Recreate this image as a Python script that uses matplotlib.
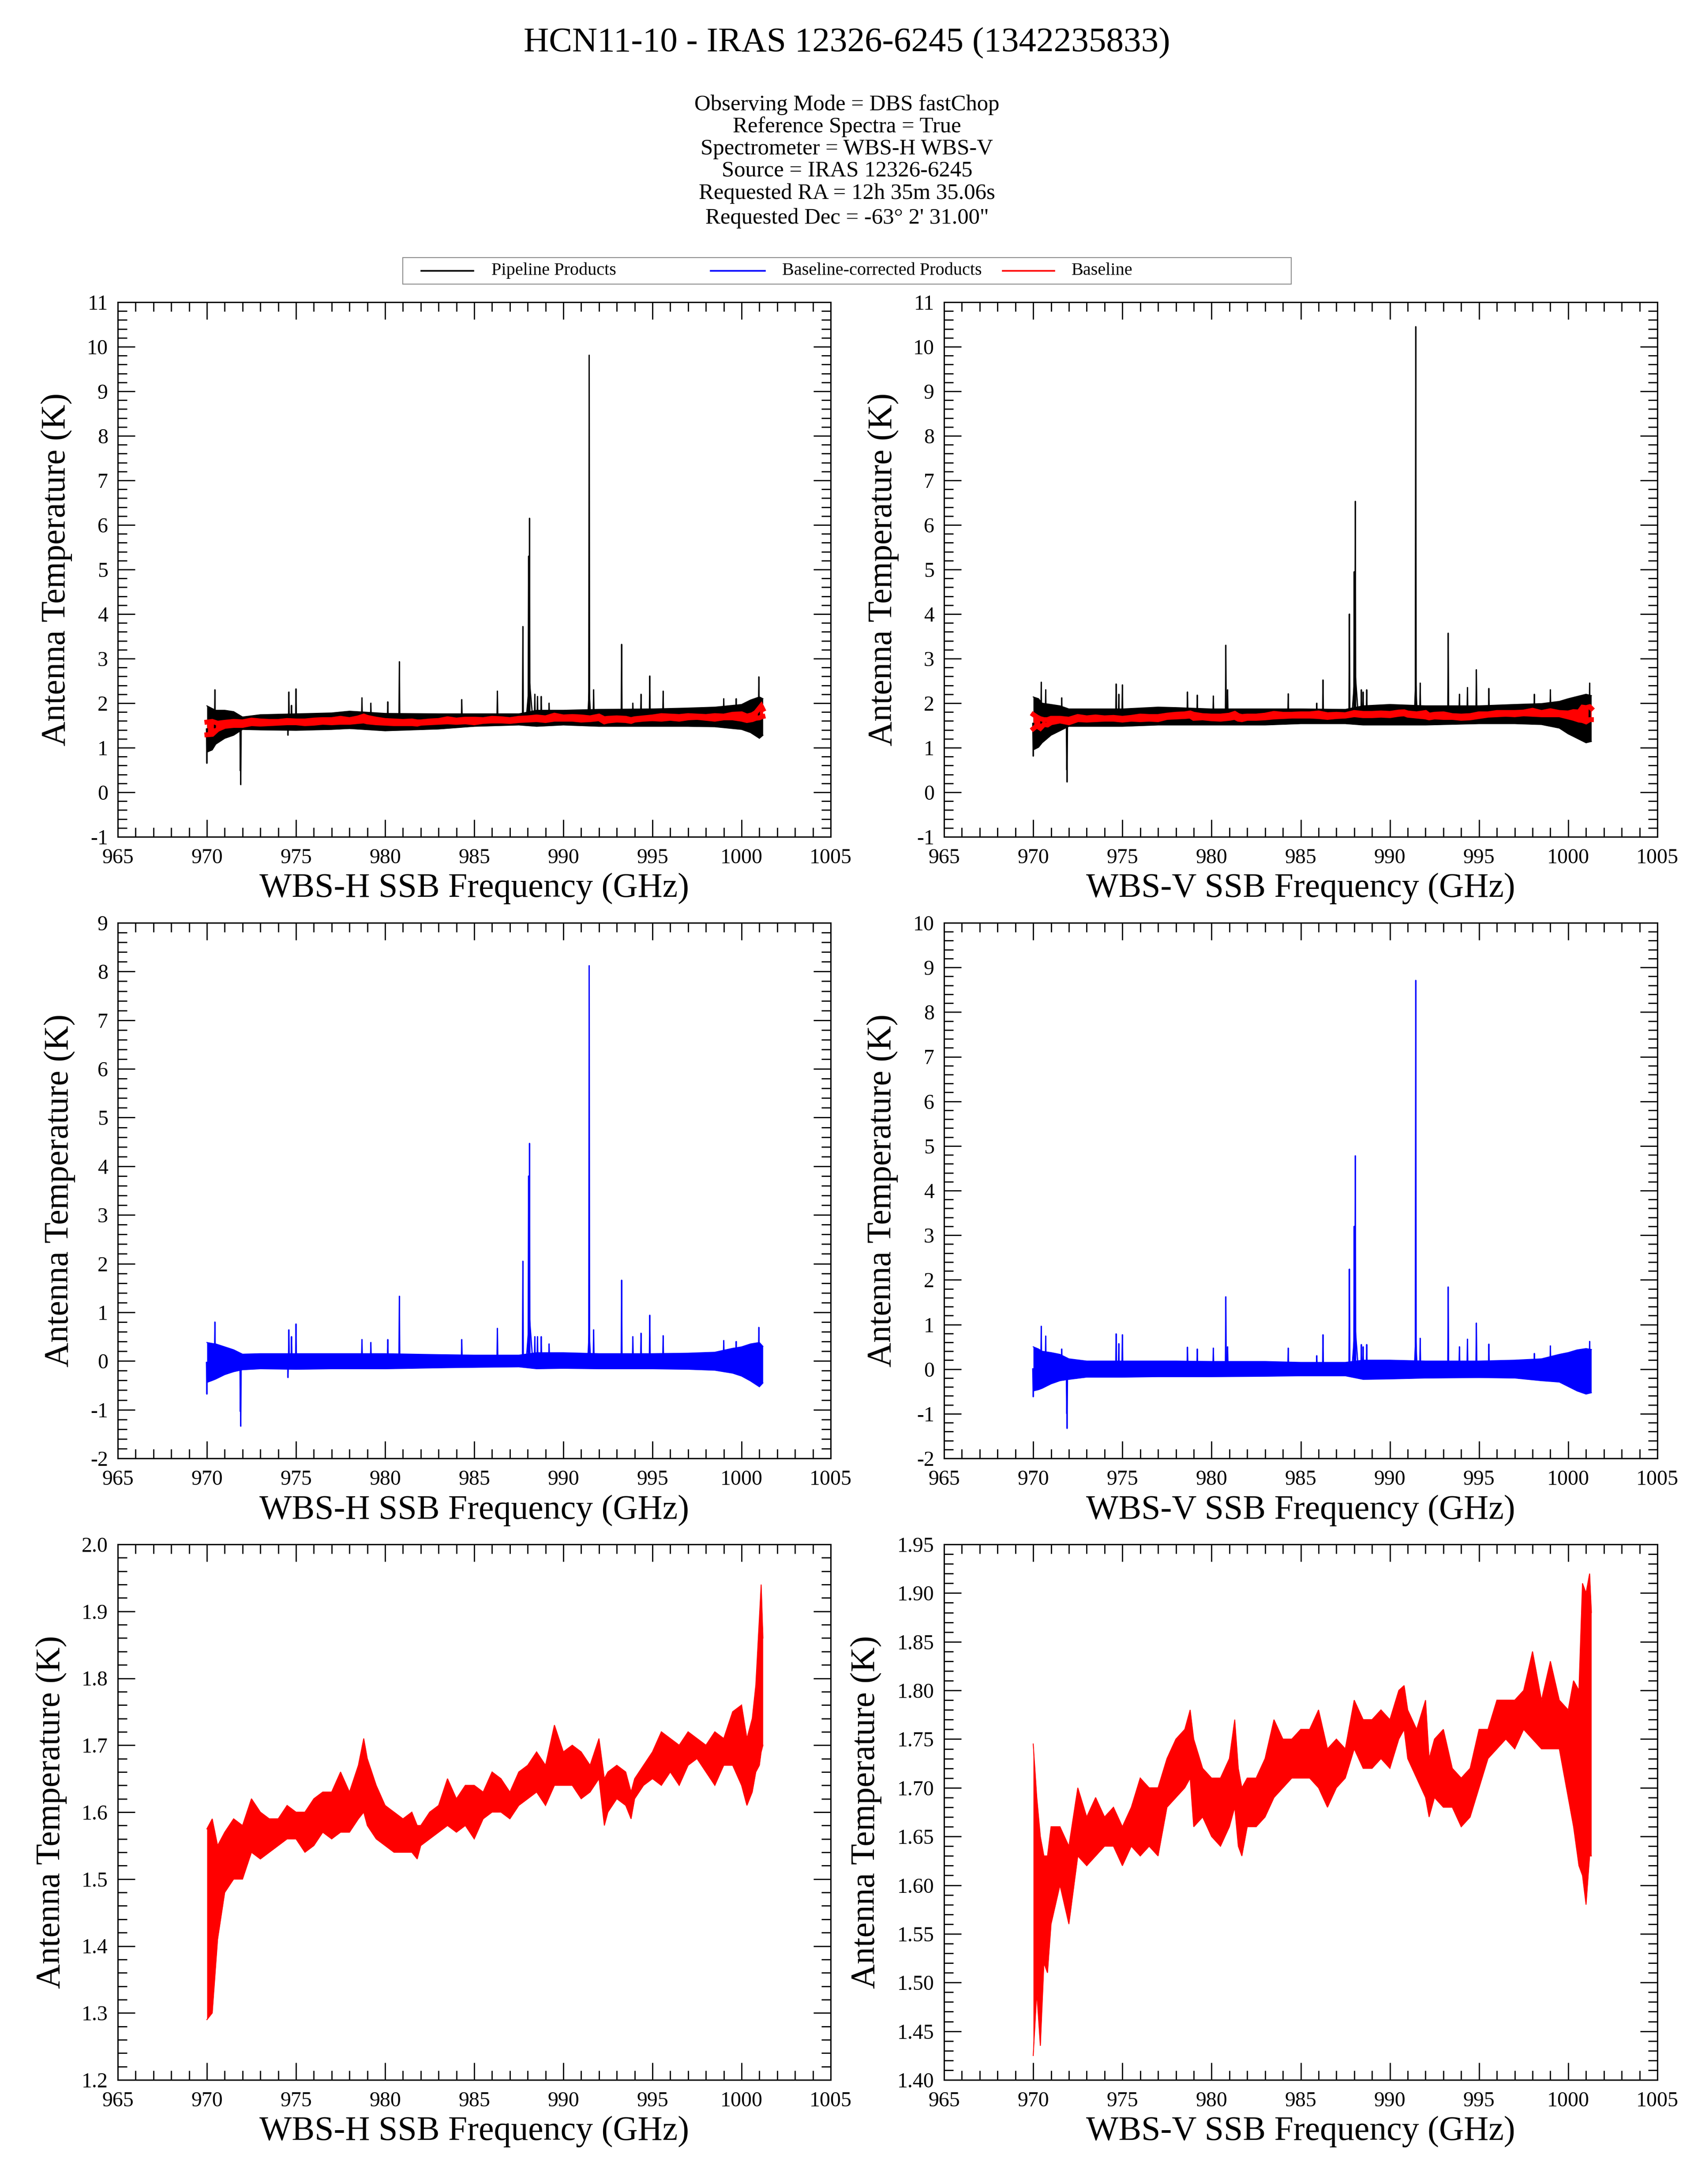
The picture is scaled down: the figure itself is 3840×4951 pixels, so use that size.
import numpy as np
import matplotlib
matplotlib.use('Agg')
import matplotlib.pyplot as plt
from matplotlib.ticker import MultipleLocator, FormatStrFormatter
from matplotlib.lines import Line2D
from matplotlib.patches import Rectangle

plt.rcParams['font.family'] = ['Liberation Serif', 'DejaVu Serif']
plt.rcParams['axes.unicode_minus'] = False

# ---------------- data ----------------
TITLE = "HCN11-10 - IRAS 12326-6245 (1342235833)"
INFO_LINES = ["Observing Mode = DBS fastChop",
              "Reference Spectra = True",
              "Spectrometer = WBS-H WBS-V",
              "Source = IRAS 12326-6245",
              "Requested RA = 12h 35m 35.06s",
              "Requested Dec = -63\u00b0 2' 31.00\""]
LEGEND_LABELS = ["Pipeline Products", "Baseline-corrected Products", "Baseline"]

# noise-band envelope nodes (GHz)
F_BAND_H = [970.0, 970.3, 970.5, 971.0, 971.5, 972.0, 973.0, 975.0, 977.0, 978.0, 980.0, 983.0, 985.0,
            987.5, 988.5, 990.0, 992.0, 995.0, 997.0, 998.5, 999.5, 1000.0, 1000.5, 1001.0, 1001.2]
F_BAND_V = [970.0, 970.3, 970.5, 971.0, 971.5, 972.0, 973.0, 975.0, 977.0, 978.0, 980.0, 983.0, 985.0,
            987.5, 988.5, 990.0, 992.0, 995.0, 997.0, 998.5, 999.5, 1000.0, 1000.5, 1001.0, 1001.3]

# pipeline products (K)
PIPE_H_HI = [1.94, 1.88, 1.84, 1.84, 1.81, 1.69, 1.74, 1.76, 1.78, 1.82, 1.77, 1.76, 1.76,
             1.76, 1.84, 1.84, 1.86, 1.87, 1.89, 1.91, 1.95, 1.97, 2.07, 2.14, 2.10]
PIPE_H_LO = [0.90, 0.95, 1.08, 1.21, 1.28, 1.41, 1.40, 1.39, 1.41, 1.43, 1.38, 1.42, 1.48,
             1.51, 1.48, 1.51, 1.48, 1.48, 1.48, 1.47, 1.43, 1.41, 1.34, 1.21, 1.28]
PIPE_V_HI = [2.14, 2.10, 2.00, 1.97, 1.94, 1.87, 1.87, 1.87, 1.91, 1.90, 1.87, 1.87, 1.87,
             1.86, 1.94, 1.97, 1.94, 1.94, 1.97, 1.99, 2.04, 2.10, 2.15, 2.20, 2.17]
PIPE_V_LO = [0.95, 1.01, 1.11, 1.28, 1.38, 1.48, 1.48, 1.48, 1.51, 1.51, 1.51, 1.51, 1.54,
             1.54, 1.51, 1.51, 1.51, 1.54, 1.54, 1.52, 1.44, 1.31, 1.21, 1.11, 1.14]

# baseline-corrected products (K)
CORR_H_HI = [0.38, 0.36, 0.35, 0.29, 0.23, 0.14, 0.15, 0.15, 0.15, 0.15, 0.15, 0.13, 0.12,
             0.12, 0.17, 0.17, 0.15, 0.15, 0.16, 0.18, 0.26, 0.29, 0.35, 0.38, 0.30]
CORR_H_LO = [-0.44, -0.40, -0.37, -0.28, -0.22, -0.18, -0.16, -0.17, -0.16, -0.16, -0.16, -0.14, -0.13,
             -0.12, -0.16, -0.15, -0.16, -0.16, -0.17, -0.19, -0.25, -0.31, -0.41, -0.53, -0.45]
CORR_V_HI = [0.50, 0.45, 0.40, 0.37, 0.33, 0.23, 0.18, 0.18, 0.18, 0.18, 0.17, 0.17, 0.15,
             0.15, 0.20, 0.20, 0.18, 0.18, 0.20, 0.23, 0.33, 0.37, 0.43, 0.46, 0.44]
CORR_V_LO = [-0.49, -0.46, -0.43, -0.33, -0.26, -0.23, -0.18, -0.18, -0.17, -0.17, -0.17, -0.16, -0.15,
             -0.15, -0.23, -0.22, -0.20, -0.19, -0.20, -0.26, -0.29, -0.39, -0.49, -0.56, -0.53]

# spectral lines (GHz, peak K)
PK_H_F = [970.45, 974.6, 974.75, 975.0, 978.7, 979.2, 980.15, 980.8, 984.3, 986.3, 987.73, 988.05, 988.1,
          988.4, 988.55, 988.76, 989.2, 991.45, 991.7, 993.27, 993.9, 994.36, 994.85, 995.6, 999.0,
          999.7, 1000.97]
PK_H_PIPE = [2.30, 2.25, 1.95, 2.32, 2.12, 2.00, 2.03, 2.93, 2.08, 2.27, 3.72, 5.30, 6.15,
             2.20, 2.15, 2.15, 2.00, 9.81, 2.30, 3.32, 2.00, 2.20, 2.61, 2.27, 2.10, 2.10, 2.59]
PK_H_CORR = [0.80, 0.64, 0.50, 0.76, 0.44, 0.38, 0.44, 1.33, 0.44, 0.67, 2.05, 3.80, 4.47,
             0.50, 0.50, 0.50, 0.35, 8.12, 0.64, 1.66, 0.50, 0.57, 0.94, 0.52, 0.42, 0.40, 0.69]
PK_V_F = [970.45, 970.7, 971.6, 974.65, 974.8, 975.0, 978.65, 979.2, 980.1, 980.8, 980.9, 984.3, 985.9,
          986.25, 987.73, 988.0, 988.06, 988.4, 988.5, 988.7, 991.45, 991.7, 993.27, 993.9, 994.35,
          994.85, 995.55, 998.1, 999.0, 1001.2]
PK_V_PIPE = [2.47, 2.30, 2.12, 2.43, 2.20, 2.41, 2.25, 2.18, 2.16, 3.30, 2.30, 2.21, 2.00,
             2.52, 4.00, 4.95, 6.53, 2.30, 2.25, 2.30, 10.45, 2.45, 3.57, 2.20, 2.35,
             2.75, 2.33, 2.20, 2.30, 2.45]
PK_V_CORR = [0.96, 0.74, 0.45, 0.79, 0.57, 0.77, 0.49, 0.45, 0.47, 1.62, 0.50, 0.47, 0.30,
             0.77, 2.24, 3.20, 4.78, 0.55, 0.50, 0.55, 8.71, 0.69, 1.84, 0.50, 0.67,
             1.03, 0.56, 0.35, 0.52, 0.62]

# broad line pedestals (GHz, peak K, half width GHz)
PED_H_F = [988.1, 991.45]
PED_H_PIPE = [2.5, 2.3]
PED_H_CORR = [0.9, 0.6]
PED_V_F = [988.05, 991.45]
PED_V_PIPE = [2.7, 2.5]
PED_V_CORR = [0.95, 0.7]
PED_HW = [0.18, 0.08]

# absorption-like dips (GHz, minimum K)
DP_H_F = [970.0, 971.88, 971.9, 974.55]
DP_H_PIPE = [0.65, 0.48, 0.17, 1.28]
DP_H_CORR = [-0.68, -1.04, -1.34, -0.34]
DP_V_F = [970.0, 971.88, 971.9]
DP_V_PIPE = [0.81, 0.50, 0.23]
DP_V_CORR = [-0.62, -1.00, -1.33]

# baselines (K)
BL_H_F = [970.0, 970.3, 970.6, 971.0, 971.5, 972.0, 972.5, 973.0, 973.5, 974.0, 974.5, 975.0, 975.5,
          976.0, 976.5, 977.0, 977.5, 978.0, 978.5, 978.8, 979.0, 979.5, 980.0, 980.5, 981.0, 981.5,
          981.8, 982.0, 982.5, 983.0, 983.5, 984.0, 984.5, 985.0, 985.5, 986.0, 986.5, 987.0, 987.5,
          988.0, 988.5, 989.0, 989.5, 990.0, 990.5, 991.0, 991.5, 992.0, 992.3, 992.5, 993.0, 993.5,
          993.8, 994.0, 994.5, 995.0, 995.5, 996.0, 996.5, 997.0, 997.5, 998.0, 998.5, 999.0, 999.5,
          1000.0, 1000.3, 1000.6, 1000.8, 1001.0, 1001.1, 1001.2]
BL_H_LO = [1.29, 1.30, 1.41, 1.48, 1.50, 1.50, 1.54, 1.53, 1.54, 1.55, 1.56, 1.56, 1.54,
           1.55, 1.57, 1.56, 1.57, 1.57, 1.59, 1.60, 1.58, 1.56, 1.55, 1.54, 1.54, 1.54,
           1.53, 1.55, 1.56, 1.57, 1.58, 1.57, 1.58, 1.56, 1.59, 1.60, 1.60, 1.59, 1.61,
           1.62, 1.63, 1.61, 1.64, 1.64, 1.64, 1.62, 1.63, 1.65, 1.58, 1.60, 1.62, 1.61,
           1.59, 1.62, 1.64, 1.65, 1.64, 1.66, 1.64, 1.67, 1.68, 1.66, 1.64, 1.67, 1.67,
           1.64, 1.61, 1.63, 1.66, 1.67, 1.69, 1.70]
BL_H_HI = [1.575, 1.59, 1.55, 1.57, 1.59, 1.58, 1.62, 1.60, 1.59, 1.59, 1.61, 1.60, 1.60,
           1.62, 1.63, 1.63, 1.66, 1.63, 1.67, 1.71, 1.68, 1.64, 1.61, 1.60, 1.59, 1.60,
           1.58, 1.58, 1.60, 1.61, 1.65, 1.62, 1.64, 1.64, 1.63, 1.66, 1.65, 1.63, 1.66,
           1.67, 1.69, 1.67, 1.73, 1.69, 1.70, 1.69, 1.67, 1.71, 1.65, 1.66, 1.67, 1.66,
           1.63, 1.65, 1.67, 1.69, 1.72, 1.71, 1.70, 1.72, 1.71, 1.70, 1.72, 1.71, 1.75,
           1.76, 1.71, 1.74, 1.79, 1.89, 1.94, 1.86]
BL_V_F = [970.0, 970.2, 970.4, 970.6, 970.8, 971.0, 971.5, 972.0, 972.5, 973.0, 973.5, 974.0, 974.5,
          975.0, 975.5, 976.0, 976.5, 977.0, 977.5, 978.0, 978.5, 978.8, 979.0, 979.5, 980.0, 980.5,
          981.0, 981.3, 981.5, 981.7, 982.0, 982.5, 983.0, 983.5, 984.0, 984.5, 985.0, 985.5, 986.0,
          986.5, 987.0, 987.5, 988.0, 988.5, 989.0, 989.5, 990.0, 990.5, 990.8, 991.0, 991.5, 992.0,
          992.2, 992.5, 993.0, 993.5, 994.0, 994.5, 995.0, 995.5, 996.0, 996.5, 997.0, 997.5, 998.0,
          998.5, 999.0, 999.5, 1000.0, 1000.3, 1000.6, 1000.8, 1001.0, 1001.2, 1001.3]
BL_V_LO = [1.425, 1.49, 1.435, 1.52, 1.51, 1.56, 1.60, 1.56, 1.63, 1.62, 1.63, 1.64, 1.64,
           1.62, 1.64, 1.63, 1.64, 1.63, 1.68, 1.69, 1.70, 1.71, 1.66, 1.67, 1.65, 1.64,
           1.66, 1.68, 1.64, 1.63, 1.66, 1.66, 1.67, 1.69, 1.70, 1.71, 1.71, 1.71, 1.70,
           1.68, 1.70, 1.71, 1.74, 1.72, 1.72, 1.73, 1.72, 1.75, 1.76, 1.73, 1.71, 1.69,
           1.67, 1.69, 1.68, 1.68, 1.66, 1.67, 1.70, 1.73, 1.74, 1.75, 1.74, 1.76, 1.75,
           1.74, 1.74, 1.74, 1.69, 1.66, 1.62, 1.61, 1.58, 1.63, 1.63]
BL_V_HI = [1.745, 1.69, 1.65, 1.63, 1.63, 1.66, 1.66, 1.64, 1.70, 1.67, 1.69, 1.67, 1.68,
           1.66, 1.68, 1.71, 1.70, 1.70, 1.73, 1.75, 1.76, 1.78, 1.75, 1.72, 1.71, 1.71,
           1.73, 1.77, 1.72, 1.70, 1.71, 1.71, 1.73, 1.77, 1.75, 1.75, 1.76, 1.76, 1.78,
           1.74, 1.75, 1.74, 1.79, 1.77, 1.77, 1.78, 1.77, 1.80, 1.805, 1.78, 1.76, 1.79,
           1.73, 1.75, 1.76, 1.72, 1.71, 1.72, 1.76, 1.76, 1.79, 1.79, 1.79, 1.80, 1.84,
           1.79, 1.83, 1.79, 1.78, 1.81, 1.80, 1.91, 1.90, 1.92, 1.88]

# ---------------- figure ----------------
W, H = 3840, 4951
DPI = 100
fig = plt.figure(figsize=(W / DPI, H / DPI), dpi=DPI)

BLACK, BLUE, RED = '#000000', '#0000ff', '#ff0000'

fig.text(0.5, 1 - 116 / H, TITLE, ha='center', va='baseline', fontsize=57)
for line, yb in zip(INFO_LINES, [250, 300, 350, 400, 451, 507]):
    fig.text(0.5, 1 - yb / H, line, ha='center', va='baseline', fontsize=36.5)

# legend box
fig.add_artist(Rectangle((913 / W, 1 - 644 / H), (2927 - 913) / W, 60 / H,
                         transform=fig.transFigure, fill=False, edgecolor='#8c8c8c', lw=1.5))
for (x0, x1, xt), c, lab in zip([(955, 1073, 1114), (1611, 1734, 1773), (2273, 2390, 2429)],
                                [BLACK, BLUE, RED], LEGEND_LABELS):
    fig.add_artist(Line2D([x0 / W, x1 / W], [1 - 614 / H, 1 - 614 / H],
                          transform=fig.transFigure, color=c, lw=2.6))
    fig.text(xt / W, 1 - 623 / H, lab, ha='left', va='baseline', fontsize=29)

COLS = [(267, 1883), (2140, 3757)]
ROWS = [(685, 1897), (2092, 3306), (3501, 4715)]


def make_ax(col, row):
    (x0, x1), (y0, y1) = COLS[col], ROWS[row]
    return fig.add_axes([x0 / W, 1 - y1 / H, (x1 - x0) / W, (y1 - y0) / H])


def style(ax, col, row, ylim, ymaj, ymin, yfmt, xlabel, ylab_off):
    ax.set_xlim(965, 1005)
    ax.set_ylim(*ylim)
    ax.xaxis.set_major_locator(MultipleLocator(5))
    ax.xaxis.set_minor_locator(MultipleLocator(1))
    ax.yaxis.set_major_locator(MultipleLocator(ymaj))
    ax.yaxis.set_minor_locator(MultipleLocator(ymin))
    ax.yaxis.set_major_formatter(FormatStrFormatter(yfmt))
    ax.xaxis.set_major_formatter(FormatStrFormatter('%d'))
    ax.tick_params(which='both', direction='in', top=True, right=True, width=2.0, labelsize=34.5)
    ax.tick_params(which='major', length=28)
    ax.tick_params(which='minor', length=15)
    ax.tick_params(axis='x', which='both', pad=19)
    ax.tick_params(axis='y', which='both', pad=16)
    for s in ax.spines.values():
        s.set_linewidth(2.2)
    (x0, x1), (y0, y1) = COLS[col], ROWS[row]
    ax.set_xlabel(xlabel, fontsize=56, va='top')
    ax.xaxis.set_label_coords(0.5, -82 / (y1 - y0))
    ax.set_ylabel('Antenna Temperature (K)', fontsize=56, va='center')
    ax.yaxis.set_label_coords(-ylab_off / (x1 - x0), 0.5)


def band(ax, f, lo, hi, color, elw):
    ax.fill_between(f, lo, hi, color=color, lw=0)
    ax.plot(f, lo, color=color, lw=elw, solid_joinstyle='miter')
    ax.plot(f, hi, color=color, lw=elw, solid_joinstyle='miter')


def spikes(ax, fb, lo, hi, pf, pv, hws, color, lw=2.0):
    mid = (np.asarray(lo) + np.asarray(hi)) / 2
    for f, v, w in zip(pf, pv, hws):
        b = np.interp(f, fb, mid)
        ax.plot([f - w, f, f + w], [b, v, b], color=color, lw=lw)


NARROW = 0.025

specs = [
    # col, H/V
    (0, 'H', F_BAND_H, PIPE_H_LO, PIPE_H_HI, CORR_H_LO, CORR_H_HI, PK_H_F, PK_H_PIPE, PK_H_CORR,
     PED_H_F, PED_H_PIPE, PED_H_CORR, DP_H_F, DP_H_PIPE, DP_H_CORR, BL_H_F, BL_H_LO, BL_H_HI),
    (1, 'V', F_BAND_V, PIPE_V_LO, PIPE_V_HI, CORR_V_LO, CORR_V_HI, PK_V_F, PK_V_PIPE, PK_V_CORR,
     PED_V_F, PED_V_PIPE, PED_V_CORR, DP_V_F, DP_V_PIPE, DP_V_CORR, BL_V_F, BL_V_LO, BL_V_HI),
]

LAYOUT = {
    'H': dict(top=((-1, 11), 1, 0.2, '%d', 139), mid=((-2, 9), 1, 0.2, '%d', 132),
              bot=((1.2, 2.0), 0.1, 0.02, '%.1f', 151)),
    'V': dict(top=((-1, 11), 1, 0.2, '%d', 138), mid=((-2, 10), 1, 0.2, '%d', 140),
              bot=((1.40, 1.95), 0.05, 0.01, '%.2f', 177)),
}

for (col, tag, fb, plo, phi, clo, chi, pkf, pkp, pkc, pdf, pdp, pdc, dpf, dpp, dpc,
     blf, bllo, blhi) in specs:
    xlabel = 'WBS-%s SSB Frequency (GHz)' % tag
    lay = LAYOUT[tag]

    # row 1: pipeline + baseline
    ax = make_ax(col, 0)
    band(ax, fb, plo, phi, BLACK, 1.5)
    spikes(ax, fb, plo, phi, pdf, pdp, PED_HW, BLACK)
    spikes(ax, fb, plo, phi, pkf, pkp, [NARROW] * len(pkf), BLACK)
    spikes(ax, fb, plo, phi, dpf, dpp, [NARROW] * len(dpf), BLACK)
    band(ax, blf, bllo, blhi, RED, 8)
    ylim, ymaj, ymin, fmt, off = lay['top']
    style(ax, col, 0, ylim, ymaj, ymin, fmt, xlabel, off)

    # row 2: baseline-corrected
    ax = make_ax(col, 1)
    band(ax, fb, clo, chi, BLUE, 1.5)
    spikes(ax, fb, clo, chi, pdf, pdc, PED_HW, BLUE)
    spikes(ax, fb, clo, chi, pkf, pkc, [NARROW] * len(pkf), BLUE)
    spikes(ax, fb, clo, chi, dpf, dpc, [NARROW] * len(dpf), BLUE)
    ylim, ymaj, ymin, fmt, off = lay['mid']
    style(ax, col, 1, ylim, ymaj, ymin, fmt, xlabel, off)

    # row 3: baseline
    ax = make_ax(col, 2)
    band(ax, blf, bllo, blhi, RED, 1.5)
    ylim, ymaj, ymin, fmt, off = lay['bot']
    style(ax, col, 2, ylim, ymaj, ymin, fmt, xlabel, off)

fig.savefig('out.png', dpi=DPI)
